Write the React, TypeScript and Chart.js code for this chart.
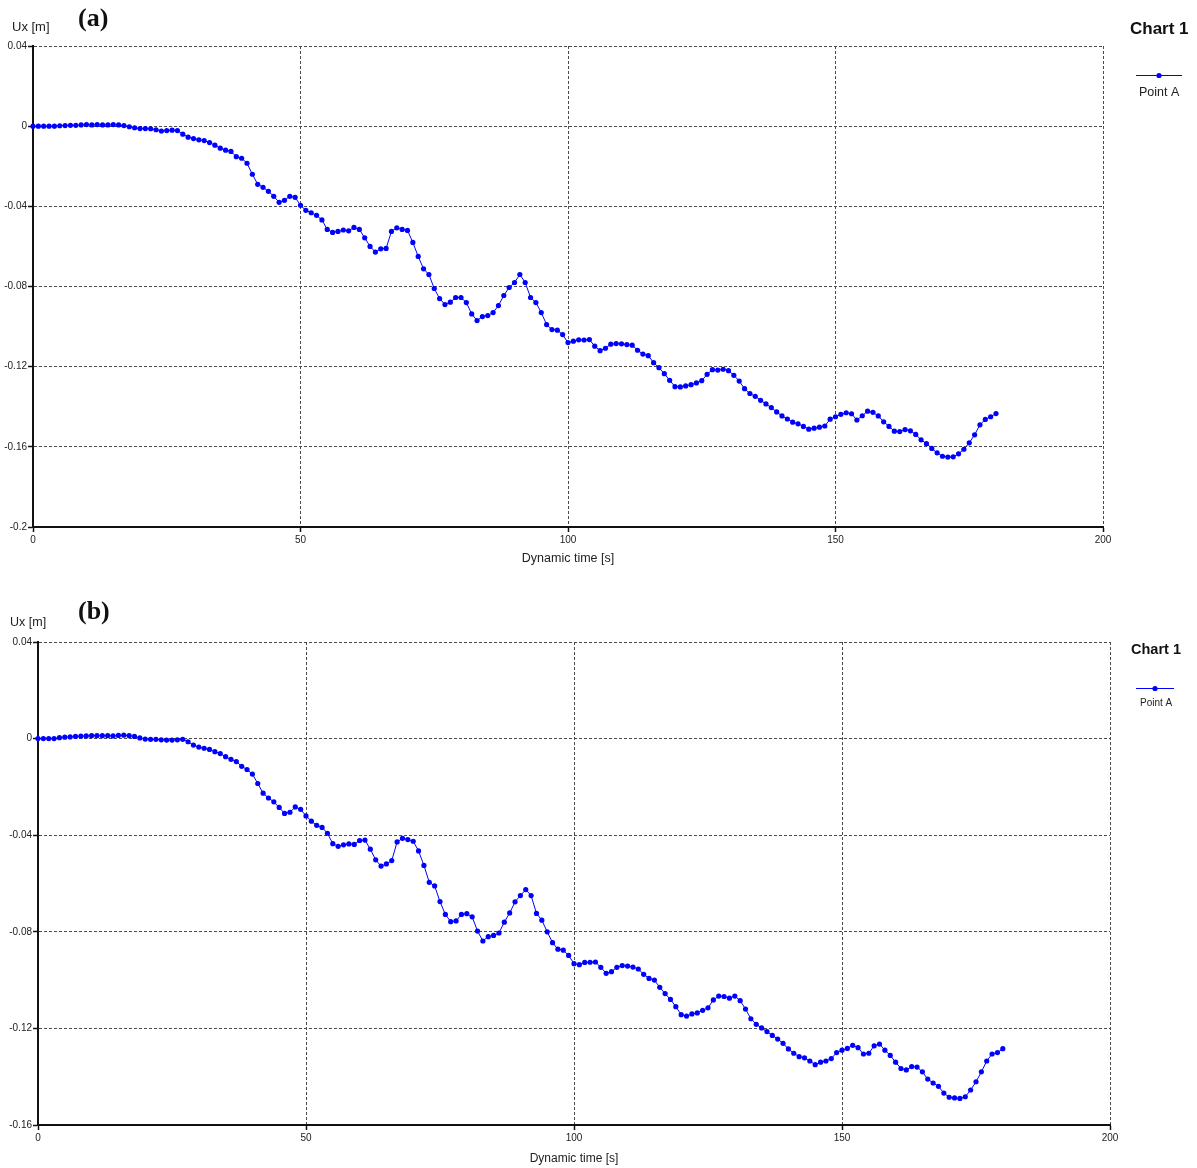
import React, { useEffect, useRef } from "react";
import { Chart, registerables } from "chart.js";

Chart.register(...registerables);

// Ux [m] of Point A, sampled every 1 s of dynamic time (0..180 s)
const uxA: number[] = [
  0, 0, 0, 0, 0, 0.0002, 0.0003, 0.0004, 0.0004, 0.0006,
  0.0008, 0.0006, 0.0008, 0.0006, 0.0006, 0.0008, 0.0006, 0.0003, -0.0003, -0.0008,
  -0.0012, -0.0012, -0.0013, -0.0018, -0.0024, -0.0022, -0.002, -0.0022, -0.004, -0.0055,
  -0.0062, -0.0068, -0.0072, -0.0082, -0.0095, -0.011, -0.012, -0.0126, -0.0152, -0.016,
  -0.0185, -0.024, -0.029, -0.0305, -0.0325, -0.035, -0.038, -0.037, -0.035, -0.0355,
  -0.0395, -0.042, -0.0432, -0.0445, -0.0468, -0.0515, -0.053, -0.0525, -0.0518, -0.0522,
  -0.0505, -0.0515, -0.0557, -0.06, -0.0628, -0.0612, -0.061, -0.0525, -0.0507, -0.0515,
  -0.052, -0.058, -0.065, -0.0712, -0.074, -0.081, -0.086, -0.089, -0.0878, -0.0855,
  -0.0855, -0.088, -0.0937, -0.097, -0.095, -0.0945, -0.093, -0.0895, -0.0845, -0.0805,
  -0.078, -0.074, -0.078, -0.0855, -0.088, -0.093, -0.099, -0.1015, -0.1018, -0.104,
  -0.108, -0.1073, -0.1066, -0.1067, -0.1065, -0.1098, -0.112, -0.1108, -0.1088, -0.1085,
  -0.1086, -0.109, -0.1093, -0.1118, -0.1137, -0.1145, -0.118, -0.1205, -0.1235, -0.1268,
  -0.13, -0.1301, -0.1296, -0.129, -0.1281, -0.127, -0.1238, -0.1215, -0.1217, -0.1213,
  -0.122, -0.1243, -0.1272, -0.131, -0.1334, -0.1348, -0.1368, -0.1386, -0.1404, -0.1426,
  -0.1446, -0.1461, -0.1477, -0.1485, -0.1498, -0.1512, -0.1507, -0.1502, -0.1496, -0.1462,
  -0.145, -0.1438, -0.143, -0.1435, -0.1466, -0.1445, -0.1422, -0.1428, -0.1446, -0.1475,
  -0.1498, -0.1522, -0.1524, -0.1514, -0.152, -0.1538, -0.1565, -0.1584, -0.1608, -0.163,
  -0.1647, -0.1651, -0.165, -0.1635, -0.1612, -0.158, -0.154, -0.149, -0.1463, -0.145,
  -0.1434,
];

const uxB: number[] = [
  0, 0, 0, 0, 0.0004, 0.0006, 0.0007, 0.0009, 0.001, 0.0011,
  0.0012, 0.0012, 0.0012, 0.0012, 0.0011, 0.0013, 0.0014, 0.0012, 0.0009, 0.0003,
  -0.0002, -0.0003, -0.0003, -0.0005, -0.0006, -0.0006, -0.0005, -0.0003, -0.0013, -0.0027,
  -0.0035, -0.004, -0.0045, -0.0054, -0.0062, -0.0075, -0.0086, -0.0095, -0.0115, -0.0128,
  -0.0147, -0.0186, -0.0226, -0.0246, -0.0262, -0.0285, -0.031, -0.0305, -0.0283, -0.0293,
  -0.032, -0.0342, -0.0359, -0.0368, -0.0392, -0.0435, -0.0446, -0.044, -0.0436, -0.0438,
  -0.0422, -0.042, -0.0458, -0.0502, -0.0528, -0.0519, -0.0505, -0.0428, -0.0413, -0.0418,
  -0.0425, -0.0465, -0.0525, -0.0595, -0.061, -0.0675, -0.0728, -0.0758, -0.0755, -0.0728,
  -0.0725, -0.0738, -0.0797, -0.0838, -0.082, -0.0815, -0.0805, -0.076, -0.0722, -0.0676,
  -0.065, -0.0625, -0.065, -0.0724, -0.0752, -0.08, -0.0845, -0.0872, -0.0876, -0.0898,
  -0.0932, -0.0936, -0.0927, -0.0926, -0.0925, -0.0947, -0.0972, -0.0965, -0.0947, -0.094,
  -0.0942, -0.0946, -0.0954, -0.0976, -0.0993, -0.1, -0.103, -0.1056, -0.108, -0.111,
  -0.1143, -0.1149, -0.114, -0.1136, -0.1125, -0.1115, -0.1082, -0.1066, -0.1068, -0.1075,
  -0.1066, -0.1085, -0.112, -0.116, -0.1183, -0.1198, -0.1213, -0.1229, -0.1244, -0.1262,
  -0.1285, -0.1303, -0.1317, -0.1322, -0.1335, -0.135, -0.134, -0.1335, -0.1325, -0.13,
  -0.129, -0.1283, -0.127, -0.128, -0.1306, -0.1303, -0.1272, -0.1265, -0.129, -0.1312,
  -0.134, -0.1366, -0.1372, -0.1358, -0.136, -0.138, -0.141, -0.1426, -0.144, -0.1468,
  -0.1485, -0.1488, -0.149, -0.1483, -0.1455, -0.1421, -0.138, -0.1335, -0.1306, -0.13,
  -0.1284,
];

const timeStep = 1; // s between samples
const xTicks = { min: 0, max: 200, step: 50 };
const yTicksA = { min: -0.2, max: 0.04, step: 0.04 };
const yTicksB = { min: -0.16, max: 0.04, step: 0.04 };
const seriesLabel = "Point A";
const chartTitle = "Chart 1";
const yTitle = "Ux [m]";
const xTitle = "Dynamic time [s]";

type Layout = {
  width: number;
  height: number;
  top: number;
  plotLeft: number;
  plotTop: number;
  plotRight: number;
  plotBottom: number;
  tickFont: number;
  xTitleFont: number;
  xTitleBottom: number;
  panel: string;
  panelX: number;
  panelY: number;
  uxX: number;
  uxY: number;
  uxFont: number;
  c1X: number;
  c1Y: number;
  c1Font: number;
  legX1: number;
  legX2: number;
  legY: number;
  ptX: number;
  ptY: number;
  ptFont: number;
};

const layoutA: Layout = {
  width: 1197, height: 580, top: 0,
  plotLeft: 33, plotTop: 46, plotRight: 1103, plotBottom: 527,
  tickFont: 10, xTitleFont: 12.5, xTitleBottom: 13.5,
  panel: "(a)", panelX: 78, panelY: 19,
  uxX: 12, uxY: 27, uxFont: 13,
  c1X: 1130, c1Y: 29, c1Font: 17,
  legX1: 1136, legX2: 1182, legY: 75,
  ptX: 1139, ptY: 93, ptFont: 12.5,
};

const layoutB: Layout = {
  width: 1197, height: 588, top: 580,
  plotLeft: 38, plotTop: 62, plotRight: 1110, plotBottom: 545,
  tickFont: 10, xTitleFont: 12, xTitleBottom: 2,
  panel: "(b)", panelX: 78, panelY: 32,
  uxX: 10, uxY: 43, uxFont: 12.5,
  c1X: 1131, c1Y: 70, c1Font: 14.5,
  legX1: 1136, legX2: 1174, legY: 108,
  ptX: 1140, ptY: 123, ptFont: 10,
};

const FONT = "'Liberation Sans', Arial, sans-serif";
const BLUE = "#0000ff";

function fmt(v: number): string {
  return String(Number(v.toFixed(2)));
}

function makeChart(canvas: HTMLCanvasElement, values: number[], yt: typeof yTicksA, L: Layout) {
  const data = values.map((v, i) => ({ x: i * timeStep, y: v }));
  const overlay = {
    id: "overlay" + L.panel,
    afterDraw(chart: any) {
      const ctx = chart.ctx as CanvasRenderingContext2D;
      ctx.save();
      ctx.textBaseline = "middle";
      ctx.textAlign = "left";
      ctx.fillStyle = "#111";
      ctx.font = `bold 26px 'Liberation Serif', 'Times New Roman', serif`;
      ctx.fillText(L.panel, L.panelX, L.panelY);
      ctx.fillStyle = "#222";
      ctx.font = `${L.uxFont}px ${FONT}`;
      ctx.fillText(yTitle, L.uxX, L.uxY);
      ctx.fillStyle = "#111";
      ctx.font = `bold ${L.c1Font}px ${FONT}`;
      ctx.fillText(chartTitle, L.c1X, L.c1Y);
      ctx.strokeStyle = BLUE;
      ctx.lineWidth = 1;
      ctx.beginPath();
      ctx.moveTo(L.legX1, L.legY + 0.5);
      ctx.lineTo(L.legX2, L.legY + 0.5);
      ctx.stroke();
      ctx.fillStyle = BLUE;
      ctx.beginPath();
      ctx.arc((L.legX1 + L.legX2) / 2, L.legY + 0.5, 2.6, 0, Math.PI * 2);
      ctx.fill();
      ctx.fillStyle = "#222";
      ctx.font = `${L.ptFont}px ${FONT}`;
      ctx.fillText(seriesLabel, L.ptX, L.ptY);
      ctx.restore();
    },
  };

  const gridCommon = {
    color: "#4a4a4a",
    lineWidth: 1,
    tickLength: 5,
    tickColor: "#111",
    tickWidth: 1.5,
    tickBorderDash: [],
  };
  const borderCommon = { display: true, color: "#111", width: 2, dash: [3, 2] };

  return new Chart(canvas, {
    type: "line",
    data: {
      datasets: [
        {
          label: seriesLabel,
          data,
          borderColor: BLUE,
          backgroundColor: BLUE,
          borderWidth: 1,
          pointRadius: 2.6,
          pointBorderWidth: 0,
          pointBackgroundColor: BLUE,
          tension: 0,
          clip: 4,
        },
      ],
    },
    options: {
      animation: false,
      responsive: false,
      devicePixelRatio: 1,
      parsing: false,
      layout: {
        padding: { left: 0, top: L.plotTop, right: L.width - L.plotRight, bottom: 0 },
      },
      plugins: { legend: { display: false }, tooltip: { enabled: false }, title: { display: false } },
      scales: {
        x: {
          type: "linear",
          min: xTicks.min,
          max: xTicks.max,
          grid: gridCommon,
          border: borderCommon,
          ticks: {
            stepSize: xTicks.step,
            color: "#222",
            font: { family: FONT, size: L.tickFont },
            padding: 2,
            maxRotation: 0,
          },
          title: {
            display: true,
            text: xTitle,
            color: "#222",
            font: { family: FONT, size: L.xTitleFont },
            padding: { top: 0, bottom: L.xTitleBottom },
          },
          afterFit(scale: any) {
            scale.height = L.height - L.plotBottom;
          },
        },
        y: {
          type: "linear",
          min: yt.min,
          max: yt.max,
          grid: gridCommon,
          border: borderCommon,
          ticks: {
            stepSize: yt.step,
            color: "#222",
            font: { family: FONT, size: L.tickFont },
            padding: 1,
            callback: (v: any) => fmt(Number(v)),
          },
          afterFit(scale: any) {
            scale.width = L.plotLeft;
          },
        },
      },
    },
    plugins: [overlay],
  } as any);
}

export default function App() {
  const refA = useRef<HTMLCanvasElement>(null);
  const refB = useRef<HTMLCanvasElement>(null);

  useEffect(() => {
    document.body.style.margin = "0";
    const a = makeChart(refA.current!, uxA, yTicksA, layoutA);
    const b = makeChart(refB.current!, uxB, yTicksB, layoutB);
    return () => {
      a.destroy();
      b.destroy();
    };
  }, []);

  return (
    <div style={{ position: "relative", width: 1197, height: 1168, background: "#fff" }}>
      <canvas
        ref={refA}
        width={layoutA.width}
        height={layoutA.height}
        style={{ position: "absolute", left: 0, top: layoutA.top, width: layoutA.width, height: layoutA.height }}
      />
      <canvas
        ref={refB}
        width={layoutB.width}
        height={layoutB.height}
        style={{ position: "absolute", left: 0, top: layoutB.top, width: layoutB.width, height: layoutB.height }}
      />
    </div>
  );
}
